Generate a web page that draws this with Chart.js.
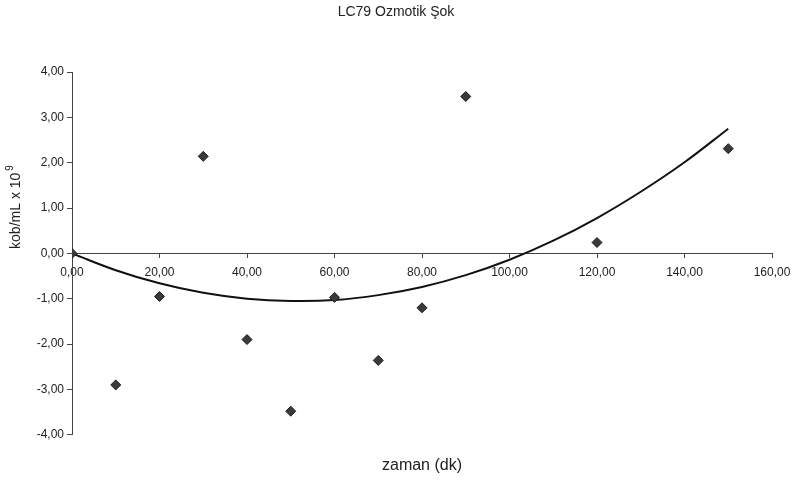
<!DOCTYPE html>
<html>
<head>
<meta charset="utf-8">
<script src="https://cdn.jsdelivr.net/npm/chart.js@4/dist/chart.umd.min.js"></script>
<style>
    html, body { margin: 0; padding: 0; background: #fff; }
    #wrap { width: 792px; height: 480px; }
</style>
</head>
<body>
<div id="wrap"><canvas id="chart"></canvas></div>
<script>
// measured points (zaman, kob/mL x 10^9)
const zaman = [0, 10, 20, 30, 40, 50, 60, 70, 80, 90, 120, 150];
const kob = [0, -2.9, -0.95, 2.14, -1.9, -3.48, -0.97, -2.36, -1.2, 3.46, 0.24, 2.31];

// trendline
const trendX = [0, 10, 20, 30, 40, 50, 60, 70, 80, 90, 100, 110, 120, 130, 140, 150];
const trendY = [0, -0.37, -0.66, -0.87, -1.0, -1.05, -1.03, -0.92, -0.74, -0.48, -0.14, 0.28, 0.78, 1.36, 2.01, 2.75];

const xTicks = [0, 20, 40, 60, 80, 100, 120, 140, 160];
const yTicks = [-4, -3, -2, -1, 0, 1, 2, 3, 4];

const fmt = (v) => v.toFixed(2).replace(".", ",");
const ink = "#222";
const face = "'Liberation Sans', Arial, sans-serif";

const yTitle = {
    id: "yTitle",
    afterDraw(chart) {
        const ctx = chart.ctx;
        ctx.save();
        ctx.translate(16, 207);
        ctx.rotate(-Math.PI / 2);
        ctx.fillStyle = ink;
        ctx.textBaseline = "middle";
        ctx.font = "14px " + face;
        const base = "kob/mL x 10";
        const w = ctx.measureText(base).width;
        ctx.font = "10px " + face;
        const w2 = ctx.measureText("9").width;
        const start = -(w + w2 + 2) / 2;
        ctx.font = "14px " + face;
        ctx.textAlign = "left";
        ctx.fillText(base, start, 0);
        ctx.font = "10px " + face;
        ctx.fillText("9", start + w + 2, -6);
        ctx.restore();
    }
};

new Chart(document.getElementById("chart"), {
    type: "scatter",
    data: {
        datasets: [
            {
                label: "kob",
                data: zaman.map((x, i) => ({ x, y: kob[i] })),
                pointStyle: "rectRot",
                pointRadius: 5,
                backgroundColor: "#3a3a3a",
                borderColor: "#1c1c1c",
                borderWidth: 1
            },
            {
                label: "trend",
                data: trendX.map((x, i) => ({ x, y: trendY[i] })),
                showLine: true,
                pointRadius: 0,
                borderColor: "#111",
                borderWidth: 2,
                tension: 0.4,
                fill: false
            }
        ]
    },
    options: {
        responsive: true,
        maintainAspectRatio: false,
        animation: false,
        layout: { padding: 0 },
        plugins: {
            legend: { display: false },
            tooltip: { enabled: false },
            title: {
                display: true,
                text: "LC79 Ozmotik Şok",
                color: ink,
                font: { family: face, size: 14, weight: "normal" },
                padding: { top: 4, bottom: 51.2 }
            },
            subtitle: {
                display: true,
                position: "bottom",
                fullSize: false,
                text: "zaman (dk)",
                color: ink,
                font: { family: face, size: 16, weight: "normal" },
                padding: { top: 21, bottom: 5 }
            }
        },
        scales: {
            x: {
                type: "linear",
                position: { y: 0 },
                min: 0,
                max: 160,
                afterBuildTicks: (s) => { s.ticks = xTicks.map(v => ({ value: v })); },
                afterFit: (s) => { s.paddingLeft = 0; s.paddingRight = 20; },
                ticks: {
                    color: ink,
                    padding: 8,
                    font: { family: face, size: 12 },
                    callback: fmt,
                    maxRotation: 0
                },
                grid: { drawOnChartArea: false, drawTicks: true, tickLength: 4, color: "#444" },
                border: { display: true, color: "#444", width: 1 }
            },
            y: {
                type: "linear",
                position: "left",
                min: -4,
                max: 4,
                afterBuildTicks: (s) => { s.ticks = yTicks.map(v => ({ value: v })); },
                afterFit: (s) => { s.width = 72; },
                ticks: {
                    color: ink,
                    padding: 3,
                    font: { family: face, size: 12 },
                    callback: fmt
                },
                grid: { drawOnChartArea: false, drawTicks: true, tickLength: 5, color: "#444" },
                border: { display: true, color: "#444", width: 1 }
            }
        }
    },
    plugins: [yTitle]
});
</script>
</body>
</html>
